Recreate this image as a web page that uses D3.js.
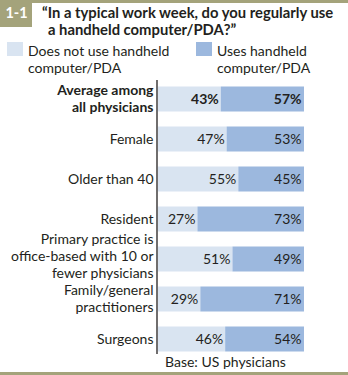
<!DOCTYPE html>
<html>
<head>
<meta charset="utf-8">
<script src="https://cdn.jsdelivr.net/npm/d3@7"></script>
<style>
  html, body { margin: 0; padding: 0; background: #fff; }
  svg { display: block; }
  text { font-family: Lato, Roboto, sans-serif; fill: #231f20; font-size: 14px; }
</style>
</head>
<body>
<script>
// Survey groups, each label split into its display lines
const categories = [
  ["Average among", "all physicians"],
  ["Female"],
  ["Older than 40"],
  ["Resident"],
  ["Primary practice is", "office-based with 10 or", "fewer physicians"],
  ["Family/general", "practitioners"],
  ["Surgeons"]
];
const notUsing = [43, 47, 55, 27, 51, 29, 46];
const using = [57, 53, 45, 73, 49, 71, 54];
const seriesNames = [["Does not use handheld", "computer/PDA"], ["Uses handheld", "computer/PDA"]];
const titleLines = ["\u201CIn a typical work week, do you regularly use", "a handheld computer/PDA?\u201D"];
const figureNumber = "1-1";
const baseNote = "Base: US physicians";

const W = 348, H = 375;
const olive = "#a4a37b";
const lightBlue = "#d9e4f1";
const darkBlue = "#9cb8de";
const lineGap = 17;

const svg = d3.select("body").append("svg").attr("width", W).attr("height", H);

// Frame rules and figure badge
svg.append("rect").attr("x", 0).attr("y", 0).attr("width", W).attr("height", 3).attr("fill", olive);
svg.append("rect").attr("x", 0).attr("y", H - 3).attr("width", W).attr("height", 3).attr("fill", olive);
svg.append("rect").attr("x", 0).attr("y", 0).attr("width", 32).attr("height", 27).attr("fill", olive);
svg.append("text").attr("x", 16.5).attr("y", 18).attr("text-anchor", "middle")
  .style("fill", "#fff").style("font-weight", "bold").style("font-size", "14.5px").text(figureNumber);

// Title, two lines
svg.append("text").attr("x", 42).attr("y", 17.5).style("font-weight", "bold").style("font-size", "14.8px")
  .text(titleLines[0]);
svg.append("text").attr("x", 48).attr("y", 34.5).style("font-weight", "bold").style("font-size", "14.8px")
  .text(titleLines[1]);

// Legend
const legendX = [7, 196];
const colors = [lightBlue, darkBlue];
seriesNames.forEach((lines, i) => {
  svg.append("rect").attr("x", legendX[i]).attr("y", 42).attr("width", 16).attr("height", 14).attr("fill", colors[i]);
  lines.forEach((l, j) => {
    svg.append("text").attr("x", legendX[i] + 21).attr("y", 55.5 + j * lineGap).text(l);
  });
});

// Scales: full bar spans 0–100%
const x = d3.scaleLinear().domain([0, 100]).range([158, 304]);
const y = d3.scaleBand().domain(d3.range(categories.length)).range([79, 359])
  .paddingInner(0.375).paddingOuter(0.1875);

const rows = svg.append("g").selectAll("g").data(categories).join("g");

rows.append("rect").attr("x", x(0)).attr("y", (d, i) => y(i))
  .attr("width", (d, i) => x(notUsing[i]) - x(0)).attr("height", y.bandwidth()).attr("fill", lightBlue);
rows.append("rect").attr("x", (d, i) => x(notUsing[i])).attr("y", (d, i) => y(i))
  .attr("width", (d, i) => x(notUsing[i] + using[i]) - x(notUsing[i])).attr("height", y.bandwidth()).attr("fill", darkBlue);

// Value labels, right-aligned inside each segment
const weight = (d, i) => i === 0 ? "bold" : "normal";
rows.append("text").attr("x", (d, i) => x(notUsing[i]) - 2).attr("y", (d, i) => y(i) + y.bandwidth() / 2 + 5)
  .attr("text-anchor", "end").style("font-weight", weight)
  .text((d, i) => notUsing[i] + "%");
rows.append("text").attr("x", (d, i) => x(notUsing[i] + using[i]) - 2.5).attr("y", (d, i) => y(i) + y.bandwidth() / 2 + 5)
  .attr("text-anchor", "end").style("font-weight", weight)
  .text((d, i) => using[i] + "%");

// Category labels, centred on their bar; three-line blocks sit a little higher to clear the next row
rows.each(function (d, i) {
  const cy = y(i) + y.bandwidth() / 2;
  const n = d.length;
  const shift = n >= 3 ? 1.5 : 4.5;
  d.forEach((line, j) => {
    d3.select(this).append("text").attr("x", 153.5).attr("y", cy + (j - (n - 1) / 2) * lineGap + shift)
      .attr("text-anchor", "end").style("font-weight", weight(d, i)).text(line);
  });
});

// Category axis line
svg.append("line").attr("x1", 157).attr("x2", 157).attr("y1", 80).attr("y2", 354)
  .attr("stroke", "#231f20").attr("stroke-width", 1.3);

// Base note
svg.append("text").attr("x", 165).attr("y", 367).text(baseNote);
</script>
</body>
</html>
